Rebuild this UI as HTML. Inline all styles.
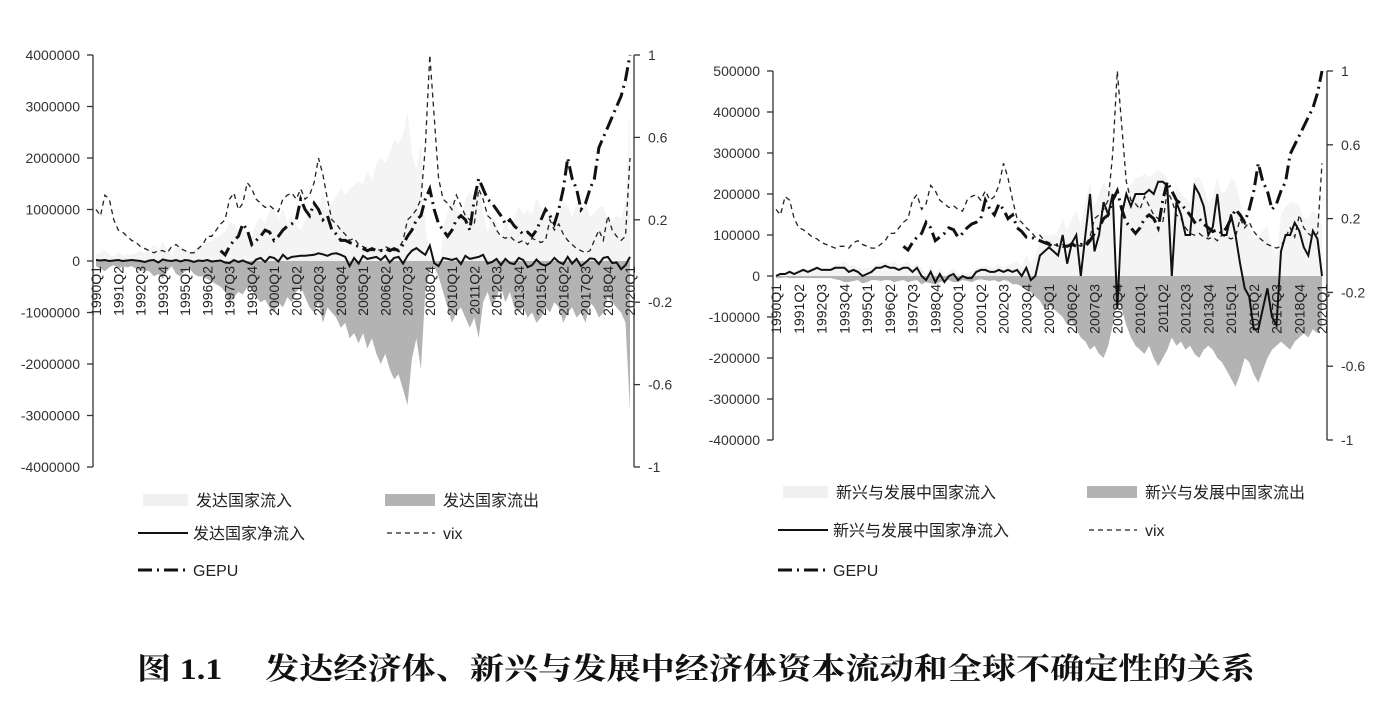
<!DOCTYPE html>
<html><head><meta charset="utf-8">
<style>
html,body{margin:0;padding:0;background:#fff;}
svg{display:block;font-family:"Liberation Sans","Noto Sans CJK SC",sans-serif;}
</style></head>
<body>
<svg id="c" width="1399" height="701" viewBox="0 0 1399 701">
<text x="137" y="679" font-family="'Liberation Serif','Noto Serif CJK SC',serif" font-weight="bold" font-size="30" textLength="1118" lengthAdjust="spacingAndGlyphs" fill="#111">图 1.1　 发达经济体、新兴与发展中经济体资本流动和全球不确定性的关系</text>
</svg>
<script>
// ---------- data (units: thousands for flows, index units for vix/gepu) ----------
const startYear = 1990;
const vix = [.25,.22,.32,.30,.2,.15,.14,.12,.1,.09,.07,.06,.05,.04,.05,.05,.04,.07,.08,.06,.05,.04,.04,.06,.08,.12,.12,.15,.18,.2,.3,.33,.25,.28,.38,.35,.3,.28,.26,.27,.25,.24,.3,.32,.33,.3,.35,.3,.32,.38,.5,.42,.3,.2,.18,.15,.13,.1,.11,.08,.07,.06,.05,.06,.05,.07,.06,.05,.06,.1,.2,.22,.25,.3,.55,1.0,.7,.4,.3,.28,.25,.32,.27,.22,.2,.18,.35,.3,.22,.2,.15,.12,.11,.12,.1,.09,.1,.08,.11,.1,.09,.1,.2,.15,.18,.13,.1,.08,.06,.05,.04,.05,.1,.15,.1,.22,.15,.12,.1,.12,.5];
const gepu = [null,null,null,null,null,null,null,null,null,null,null,null,null,null,null,null,null,null,null,null,null,null,null,null,null,null,null,null,.05,.03,.07,.1,.12,.18,.15,.08,.1,.12,.15,.14,.1,.12,.15,.17,.18,.2,.3,.25,.22,.28,.25,.2,.22,.15,.13,.1,.1,.09,.08,.07,.06,.05,.06,.05,.05,.06,.05,.06,.05,.08,.12,.15,.2,.22,.3,.35,.25,.18,.15,.12,.15,.2,.22,.2,.15,.3,.4,.35,.3,.28,.25,.22,.18,.2,.17,.15,.13,.14,.12,.15,.2,.25,.22,.18,.25,.35,.5,.4,.35,.25,.28,.35,.4,.55,.6,.65,.7,.75,.8,.88,1.0];
const advNet = [20,10,20,0,10,20,0,10,20,10,0,-20,10,20,-30,30,10,0,20,-10,20,10,-20,10,0,20,-10,0,10,-30,-40,20,-20,10,-30,-60,30,60,-20,80,60,-10,120,40,80,90,100,100,110,120,150,130,100,140,150,120,80,-100,60,-50,100,40,60,80,20,100,-30,60,80,-50,100,200,250,180,120,300,-40,-100,60,40,20,50,-60,100,40,60,80,120,-50,-20,40,-80,40,-40,-60,60,20,-120,-80,30,-60,-90,-40,60,-20,-60,80,-50,40,-100,-30,50,40,-60,60,80,-40,-30,-160,-80,80];
const advOut = [-100,-150,-200,-120,-80,-150,-100,-120,-100,-150,-200,-180,-200,-300,-250,-350,-200,-100,-250,-300,-200,-150,-250,-300,-300,-350,-400,-450,-500,-600,-800,-700,-600,-650,-500,-550,-700,-800,-750,-900,-1000,-800,-900,-700,-800,-600,-500,-700,-900,-1000,-800,-1200,-900,-1000,-1100,-1300,-1200,-1500,-1400,-1600,-1400,-1700,-1500,-1800,-2000,-1800,-2100,-2300,-2200,-2500,-2800,-1900,-1500,-2100,-600,-200,-100,-300,-600,-900,-1200,-1000,-900,-1100,-1300,-1100,-1500,-800,-600,-900,-700,-500,-800,-600,-900,-1000,-900,-1100,-1000,-1200,-1100,-900,-1000,-800,-900,-1200,-1000,-900,-1100,-1000,-1200,-800,-900,-1100,-1000,-700,-800,-900,-1000,-1200,-2900];
const advIn = [120,160,220,120,90,170,100,130,120,160,200,160,210,320,220,380,210,100,270,290,220,160,230,310,300,370,390,450,510,570,760,720,580,660,470,490,730,860,730,980,1060,790,1020,740,880,690,600,800,1010,1120,950,1330,1000,1140,1250,1420,1280,1400,1460,1550,1500,1740,1560,1880,2020,1900,2070,2360,2280,2450,2900,2100,1750,2280,720,100,-140,-400,660,940,1220,1050,840,1200,1340,1160,1580,920,550,880,740,420,840,560,840,1060,920,980,920,1230,1040,810,960,860,880,1140,1080,850,1140,900,1170,850,940,1040,1060,780,760,870,840,1120,2980];
const emNet = [0,5,5,10,5,10,15,10,15,20,15,15,15,20,20,20,10,15,10,0,5,10,20,20,25,20,20,15,20,20,10,20,0,-10,10,-15,5,-15,0,5,-10,0,-5,-5,10,15,15,10,10,15,10,15,10,15,0,20,-10,0,50,60,70,60,50,100,30,80,100,0,100,200,60,100,180,150,200,-80,150,200,170,200,200,200,210,200,230,230,220,0,180,150,100,100,220,200,170,100,120,200,100,100,150,100,30,-30,-50,-130,-130,-80,-30,-100,-120,60,100,100,130,110,70,50,110,90,0];
const emOut = [-5,-5,-3,-5,-5,-5,-5,-5,-5,-5,-5,-5,-5,-8,-10,-15,-15,-12,-10,-18,-15,-10,-10,-12,-10,-10,-15,-12,-10,-15,-12,-10,-20,-15,-18,-20,-15,-12,-10,-15,-15,-10,-12,-15,-10,-8,-10,-12,-10,-15,-10,-12,-20,-20,-25,-30,-40,-50,-60,-80,-70,-80,-90,-100,-120,-110,-130,-150,-160,-180,-170,-190,-200,-170,-120,-60,-80,-120,-150,-170,-180,-190,-170,-200,-220,-200,-180,-150,-170,-160,-180,-170,-190,-200,-180,-170,-180,-200,-210,-230,-250,-270,-240,-200,-210,-240,-260,-230,-200,-180,-170,-160,-170,-180,-160,-150,-140,-150,-130,-140,-120];
const emIn = [5,10,8,15,10,15,20,15,20,25,20,20,20,28,30,35,25,27,20,18,20,20,30,32,35,30,35,27,30,35,22,30,20,5,28,5,20,-3,10,20,5,10,7,10,20,23,25,22,20,30,20,27,30,35,25,50,30,50,80,100,100,100,110,140,110,140,160,120,180,230,170,200,230,210,220,-20,170,210,220,240,240,250,240,250,260,250,240,120,220,200,190,180,240,240,220,180,190,240,200,210,240,230,180,130,120,90,100,110,120,70,50,150,170,180,180,170,140,140,160,150,120];
const leftTicksA = [4000000,3000000,2000000,1000000,0,-1000000,-2000000,-3000000,-4000000];
const leftTicksB = [500000,400000,300000,200000,100000,0,-100000,-200000,-300000,-400000];
const rightTicks = [1,0.6,0.2,-0.2,-0.6,-1];

const svg = document.getElementById('c');
const NS = 'http://www.w3.org/2000/svg';
function mk(tag, attrs, parent){const e=document.createElementNS(NS,tag);for(const k in attrs)e.setAttribute(k,attrs[k]);(parent||svg).appendChild(e);return e;}
function qlabel(i){return (startYear+Math.floor(i/4))+'Q'+(i%4+1);}

function drawChart(cfg){
  const g = mk('g',{});
  
  
  const n = cfg.net.length;
  const x = i => cfg.x0 + (cfg.x1-cfg.x0)*i/(n-1);
  const yL = v => cfg.yTop + (cfg.lMax - v*1000)/(cfg.lMax-cfg.lMin)*(cfg.yBot-cfg.yTop);
  const yLr = v => cfg.yTop + (cfg.lMax - v)/(cfg.lMax-cfg.lMin)*(cfg.yBot-cfg.yTop);
  const yR = v => cfg.yTop + (1 - v)/2*(cfg.yBot-cfg.yTop);
  const zero = yLr(0);
  function area(arr, fill, nm){
    let d='M'+x(0)+','+zero;
    arr.forEach((v,i)=>{d+=' L'+x(i).toFixed(1)+','+yL(v).toFixed(1);});
    d+=' L'+x(n-1)+','+zero+' Z';
    const p = mk('path',{d:d,fill:fill,stroke:'none'},g);
    
    
  }
  function line(arr, yf, attrs, nm){
    let d='',pen=false;
    arr.forEach((v,i)=>{ if(v===null){pen=false;return;} d+=(pen?' L':' M')+x(i).toFixed(1)+','+yf(v).toFixed(1); pen=true;});
    const p = mk('path',Object.assign({d:d,fill:'none'},attrs),g);
    
    
  }
  area(cfg.inflow,'#f4f4f4',cfg.pfx+'-inflow-area');
  area(cfg.outflow,'#b3b3b3',cfg.pfx+'-outflow-area');
  for(let i=0;i<n;i+=5){
    const t = mk('text',{x:0,y:0,'font-size':14,fill:'#222','text-anchor':'end',transform:'translate('+(x(i)+5)+','+cfg.labY+') rotate(-90)'},g);
    t.textContent = qlabel(i);
    
    
  }
  line(cfg.vix, yR, {stroke:'#222','stroke-width':1.3,'stroke-dasharray':'5,4'}, cfg.pfx+'-vix-line');
  line(cfg.gepu, yR, {stroke:'#111','stroke-width':3,'stroke-dasharray':'14,5,2,5'}, cfg.pfx+'-gepu-line');
  line(cfg.net, yL, {stroke:'#111','stroke-width':2}, cfg.pfx+'-net-line');
  const la = mk('line',{x1:cfg.axL,x2:cfg.axL,y1:cfg.yTop,y2:cfg.yBot,stroke:'#333','stroke-width':1.3},g);
  
  
  cfg.lticks.forEach(v=>{
    const yy=yLr(v);
    mk('line',{x1:cfg.axL-6,x2:cfg.axL,y1:yy,y2:yy,stroke:'#333','stroke-width':1.3},g);
    const t=mk('text',{x:cfg.axL-13,y:yy+5,'font-size':14,fill:'#333','text-anchor':'end'},g);
    t.textContent=v;
    
    
  });
  const ra = mk('line',{x1:cfg.axR,x2:cfg.axR,y1:cfg.yTop,y2:cfg.yBot,stroke:'#333','stroke-width':1.3},g);
  
  
  rightTicks.forEach(v=>{
    const yy=yR(v);
    mk('line',{x1:cfg.axR,x2:cfg.axR+6,y1:yy,y2:yy,stroke:'#333','stroke-width':1.3},g);
    const t=mk('text',{x:cfg.axR+14,y:yy+5,'font-size':14,fill:'#333'},g);
    t.textContent=v;
    
    
  });
  const L=cfg.leg;
  function legText(tx,ty,s){const t=mk('text',{x:tx,y:ty+6,'font-size':16,fill:'#222'},g);t.textContent=s;
    
    }
  mk('rect',{x:L.c1-45,y:L.r1-6,width:45,height:12,fill:'#f0f0f0'},g); legText(L.c1+8,L.r1,cfg.names[0]);
  mk('rect',{x:L.c2-50,y:L.r1-6,width:50,height:12,fill:'#b3b3b3'},g); legText(L.c2+8,L.r1,cfg.names[1]);
  mk('line',{x1:L.c1-50,x2:L.c1,y1:L.r2,y2:L.r2,stroke:'#111','stroke-width':2},g); legText(L.c1+5,L.r2,cfg.names[2]);
  mk('line',{x1:L.c2-48,x2:L.c2,y1:L.r2,y2:L.r2,stroke:'#222','stroke-width':1.3,'stroke-dasharray':'5,4'},g); legText(L.c2+8,L.r2,'vix');
  mk('line',{x1:L.c1-50,x2:L.c1,y1:L.r3,y2:L.r3,stroke:'#111','stroke-width':3,'stroke-dasharray':'14,5,2,5'},g); legText(L.c1+5,L.r3,'GEPU');
}

drawChart({name:'developed-chart',pfx:'developed',x0:96,x1:630,yTop:55,yBot:467,lMax:4000000,lMin:-4000000,
  axL:93,axR:634,labY:266,lticks:leftTicksA,inflow:advIn,outflow:advOut,net:advNet,vix:vix,gepu:gepu,
  names:['发达国家流入','发达国家流出','发达国家净流入'],leg:{c1:188,c2:435,r1:500,r2:533,r3:570}});
drawChart({name:'emerging-chart',pfx:'emerging',x0:776,x1:1322,yTop:71,yBot:440,lMax:500000,lMin:-400000,
  axL:773,axR:1327,labY:284,lticks:leftTicksB,inflow:emIn,outflow:emOut,net:emNet,vix:vix,gepu:gepu,
  names:['新兴与发展中国家流入','新兴与发展中国家流出','新兴与发展中国家净流入'],leg:{c1:828,c2:1137,r1:492,r2:530,r3:570}});
</script>
</body></html>
